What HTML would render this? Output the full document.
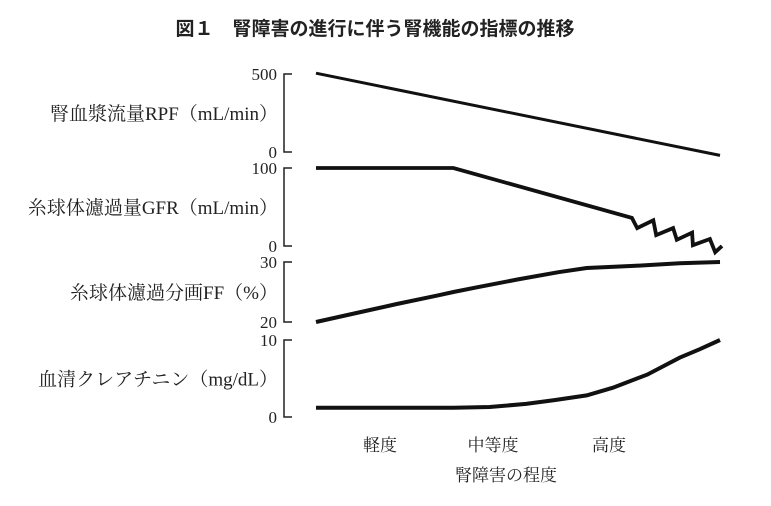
<!DOCTYPE html>
<html><head><meta charset="utf-8"><style>
body{margin:0;background:#fff;width:771px;height:506px;overflow:hidden}
svg{display:block}
.t{font-family:"Liberation Serif","Noto Serif CJK JP",serif;fill:#222}
</style></head><body>
<svg id="chart" width="771" height="506" xmlns="http://www.w3.org/2000/svg">
<text x="375" y="35" text-anchor="middle" font-family="'Liberation Sans','Noto Sans CJK JP',sans-serif" font-weight="bold" font-size="19" fill="#222">図１　腎障害の進行に伴う腎機能の指標の推移</text>
<g id="plots"></g>
<text class="t" x="380" y="451" text-anchor="middle" font-size="17">軽度</text>
<text class="t" x="493" y="451" text-anchor="middle" font-size="17">中等度</text>
<text class="t" x="609" y="451" text-anchor="middle" font-size="17">高度</text>
<text class="t" x="506" y="481" text-anchor="middle" font-size="17">腎障害の程度</text>
</svg>
<script>
const panelNames = ["rpf","gfr","ff","creatinine"];
const panelLabels = ["腎血漿流量RPF（mL/min）","糸球体濾過量GFR（mL/min）","糸球体濾過分画FF（%）","血清クレアチニン（mg/dL）"];
const tickTop = ["500","100","30","10"];
const tickBottom = ["0","0","20","0"];
const domainMin = [0,0,20,0];
const domainMax = [500,100,30,10];
const rpfX = [0,10];
const rpfY = [505,-22];
const gfrX = [0,3.4,7.82,7.95,8.35,8.42,8.84,8.93,9.31,9.33,9.75,9.88,10.05];
const gfrY = [100,100,36,23,33,14,23,8,17,1,9,-8,0];
const ffX = [0,1,2,3,3.4,4,5,6,6.7,8,9,10];
const ffY = [20,21.5,23,24.4,25,25.8,27.1,28.3,29,29.4,29.8,30];
const crX = [0,3.4,4.3,5.2,5.9,6.7,7.35,8.2,9,9.5,10];
const crY = [1.2,1.2,1.3,1.7,2.2,2.8,3.8,5.5,7.7,8.8,10];
const seriesX = [rpfX,gfrX,ffX,crX];
const seriesY = [rpfY,gfrY,ffY,crY];
const strokeW = [3,3.8,4,4];
const panelTop = [74,168,262,340];
const panelBottom = [152,246,322,417];
function xScale(v){return 316 + v*40.4;}
function yScale(i,v){return panelBottom[i] - (v-domainMin[i])/(domainMax[i]-domainMin[i])*(panelBottom[i]-panelTop[i]);}
const NS="http://www.w3.org/2000/svg";
const g=document.getElementById('plots');
function mk(tag,attrs){const e=document.createElementNS(NS,tag);for(const k in attrs)e.setAttribute(k,attrs[k]);return e;}
for(let i=0;i<4;i++){
  const t=panelTop[i],b=panelBottom[i];
  const ax=mk('path',{d:`M292 ${t}H284V${b}H292`,fill:'none',stroke:'#222','stroke-width':1.5});
  
  
  g.appendChild(ax);
  const tt=mk('text',{x:277,y:t+6,'text-anchor':'end','font-size':17,class:'t'});
  tt.textContent=tickTop[i];
  
  
  g.appendChild(tt);
  const tb=mk('text',{x:277,y:b+6,'text-anchor':'end','font-size':17,class:'t'});
  tb.textContent=tickBottom[i];
  
  
  g.appendChild(tb);
  const lb=mk('text',{x:278,y:(t+b)/2+7,'text-anchor':'end','font-size':19,class:'t'});
  lb.textContent=panelLabels[i];
  
  
  g.appendChild(lb);
  const pts=seriesX[i].map((x,j)=>xScale(x).toFixed(1)+','+yScale(i,seriesY[i][j]).toFixed(1)).join(' ');
  const pl=mk('polyline',{points:pts,fill:'none',stroke:'#111','stroke-width':strokeW[i],'stroke-linejoin':'miter','stroke-linecap':'butt'});
  
  
  g.appendChild(pl);
}
</script>
</body></html>
